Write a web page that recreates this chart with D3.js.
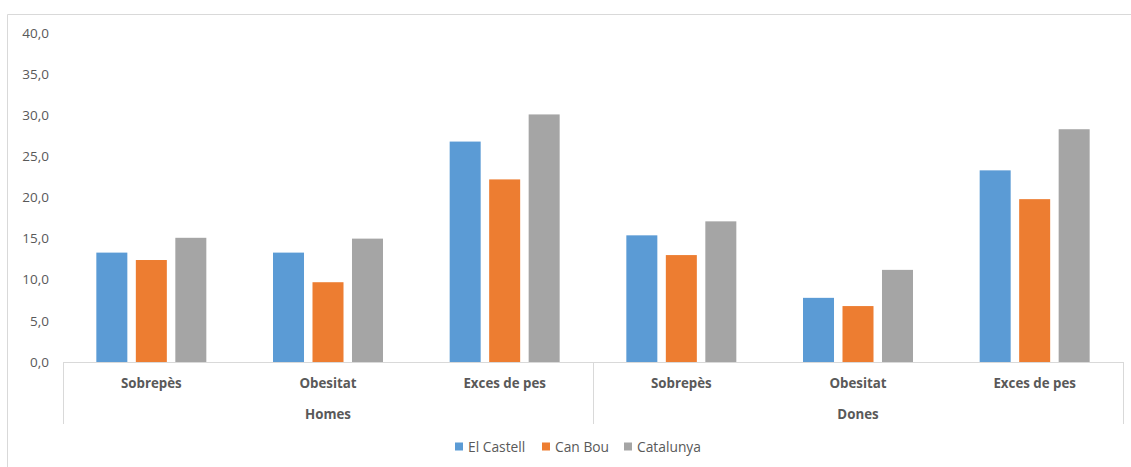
<!DOCTYPE html>
<html>
<head>
<meta charset="utf-8">
<script src="https://cdn.jsdelivr.net/npm/d3@7/dist/d3.min.js"></script>
<style>
  html, body { margin: 0; padding: 0; background: #fff; }
  svg { display: block; font-family: "Open Sans", "DejaVu Sans", sans-serif; }
</style>
</head>
<body>
<svg id="chart" width="1131" height="467"></svg>
<script>
// Grouped bar chart: weight indicators by sex and territory
const groups = ["Homes", "Dones"];
const indicators = ["Sobrepès", "Obesitat", "Exces de pes"];
const series = ["El Castell", "Can Bou", "Catalunya"];
const colors = ["#5B9BD5", "#ED7D31", "#A5A5A5"];
const elCastell = [13.3, 13.3, 26.8, 15.4, 7.8, 23.3];
const canBou    = [12.4, 9.7, 22.2, 13.0, 6.8, 19.8];
const catalunya = [15.1, 15.0, 30.1, 17.1, 11.2, 28.3];
const yTicks = [0, 5, 10, 15, 20, 25, 30, 35, 40];

const values = [elCastell, canBou, catalunya];
const cats = groups.flatMap(g => indicators.map(ind => ({ group: g, ind, key: g + "|" + ind })));

const svg = d3.select("#chart");
const textColor = "#595959";
const lineColor = "#D9D9D9";

// outer frame
svg.append("path")
  .attr("d", "M7.5,467 V14.5 H1131")
  .attr("fill", "none").attr("stroke", lineColor).attr("stroke-width", 1);

const plotLeft = 63, plotRight = 1123, plotTop = 33, plotBottom = 362;

const x = d3.scaleBand().domain(cats.map(c => c.key)).range([plotLeft, plotRight]).padding(0);
const xs = d3.scaleBand().domain(series).range([0, x.bandwidth()])
  .paddingInner(0.215).paddingOuter(0.844);
const y = d3.scaleLinear().domain([0, 40]).range([plotBottom, plotTop]);

// y tick labels
const fmt = v => d3.format(".1f")(v).replace(".", ",");
svg.append("g").selectAll("text").data(yTicks).join("text")
  .attr("x", 49).attr("y", d => y(d)).attr("dy", "0.35em")
  .attr("text-anchor", "end").attr("font-size", 13.5).attr("fill", textColor)
  .text(fmt);

// bars
const barG = svg.append("g");
series.forEach((s, si) => {
  barG.append("g").selectAll("rect").data(cats).join("rect")
    .attr("x", (c) => x(c.key) + xs(s))
    .attr("width", xs.bandwidth())
    .attr("y", (c, i) => y(values[si][i]))
    .attr("height", (c, i) => y(0) - y(values[si][i]))
    .attr("fill", colors[si]);
});

// category axis line and group separators
const axisG = svg.append("g").attr("stroke", lineColor).attr("stroke-width", 1).attr("fill", "none");
axisG.append("line").attr("x1", plotLeft).attr("x2", plotRight + 0.5)
  .attr("y1", plotBottom + 0.5).attr("y2", plotBottom + 0.5);
const sepX = [plotLeft, x(cats[3].key), plotRight];
axisG.selectAll("line.sep").data(sepX).join("line").attr("class", "sep")
  .attr("x1", d => Math.round(d) + 0.5).attr("x2", d => Math.round(d) + 0.5)
  .attr("y1", plotBottom).attr("y2", 424);

// indicator labels
svg.append("g").selectAll("text").data(cats).join("text")
  .attr("x", c => x(c.key) + x.bandwidth() / 2).attr("y", 383).attr("dy", "0.35em")
  .attr("text-anchor", "middle").attr("font-size", 13.3).attr("font-weight", "bold")
  .attr("fill", textColor).text(c => c.ind);

// group labels
svg.append("g").selectAll("text").data(groups).join("text")
  .attr("x", (g, i) => (sepX[i] + sepX[i + 1]) / 2).attr("y", 414).attr("dy", "0.35em")
  .attr("text-anchor", "middle").attr("font-size", 13.3).attr("font-weight", "bold")
  .attr("fill", textColor).text(g => g);

// legend
const legendX = [455, 542, 624];
const lg = svg.append("g").selectAll("g").data(series).join("g")
  .attr("transform", (d, i) => `translate(${legendX[i]},447)`);
lg.append("rect").attr("x", 0).attr("y", -4.5).attr("width", 8).attr("height", 8)
  .attr("fill", (d, i) => colors[i]);
lg.append("text").attr("x", 13).attr("y", 0).attr("dy", "0.35em")
  .attr("font-size", 13.8).attr("fill", textColor).text(d => d);
</script>
</body>
</html>
